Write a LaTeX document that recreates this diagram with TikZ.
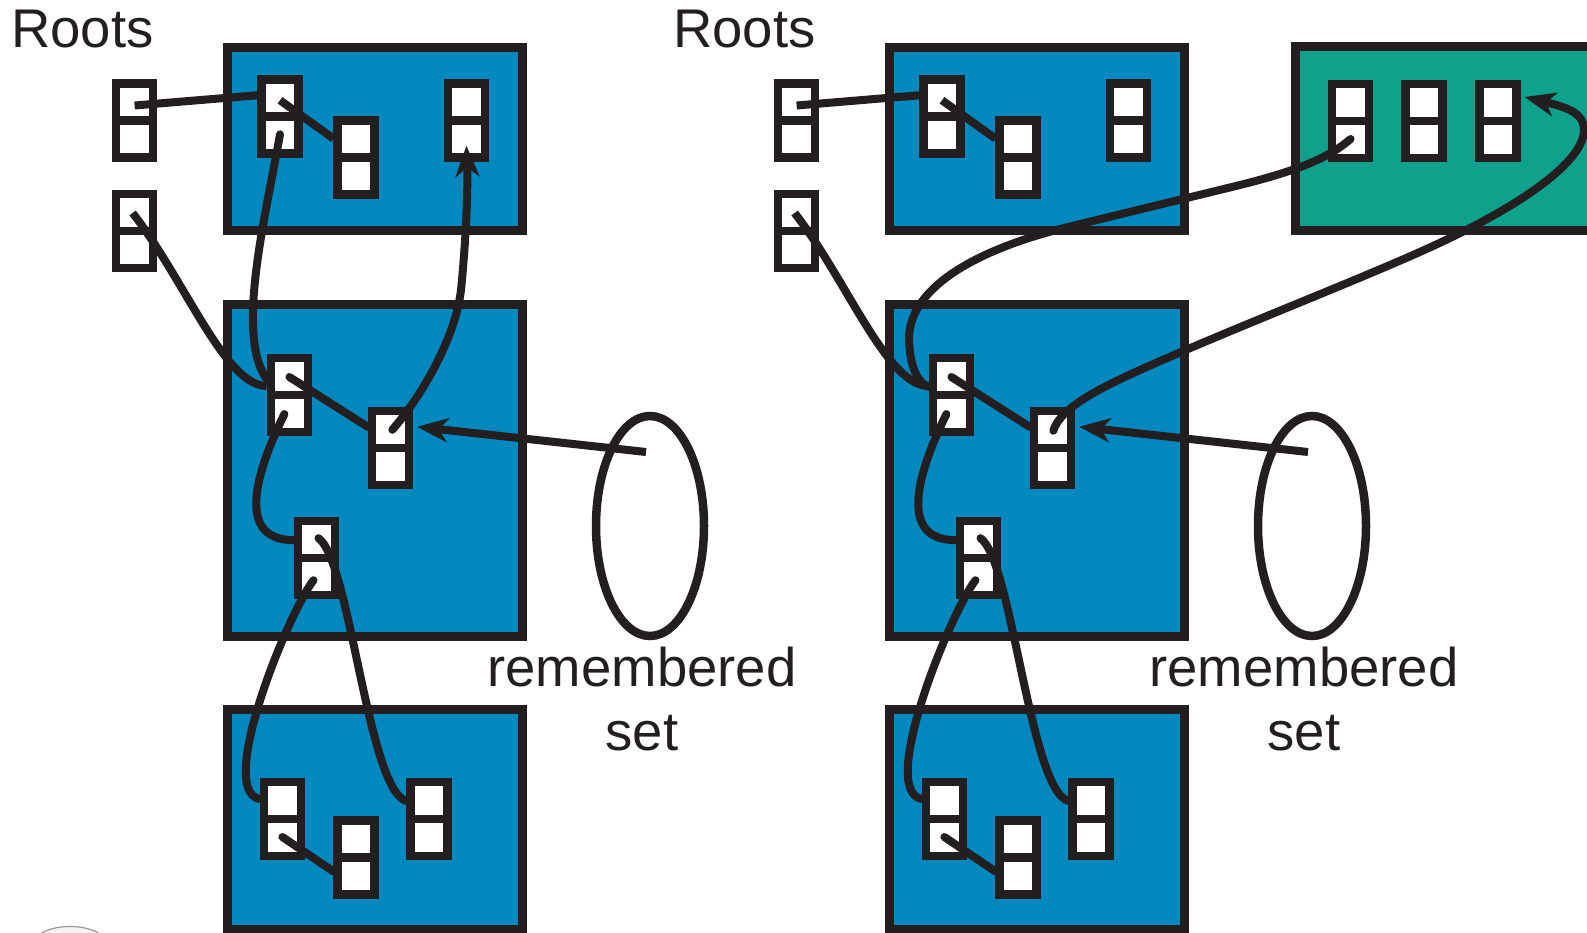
\documentclass[tikz,border=0pt]{standalone}
\usepackage{fontspec}
\setmainfont{Liberation Sans}
\usetikzlibrary{calc,shapes.geometric,arrows.meta}
\definecolor{ink}{RGB}{35,31,32}
\definecolor{heapblue}{RGB}{0,136,191}
\definecolor{oldgreen}{RGB}{14,161,140}
\begin{document}
\begin{tikzpicture}[x=1pt,y=-1pt,
  region/.style={draw=ink, line width=9pt, fill=heapblue},
  obj/.style={rectangle, draw=ink, fill=white, line width=8.5pt,
    minimum width=37pt, minimum height=74pt, inner sep=0pt,
    path picture={\draw[ink, line width=8.5pt]
      (path picture bounding box.west) -- (path picture bounding box.east);}},
  conn/.style={draw=ink, line width=8pt, line cap=round},
  flat/.style={line cap=butt},
  ptr/.style={conn, -{Stealth[length=31pt,width=24pt,inset=9pt]}},
  txt/.style={font=\fontsize{54.5}{64}\selectfont, text=ink, inner sep=0pt},
  remset/.style={draw=ink, line width=8.5pt, ellipse, minimum width=108pt,
    minimum height=220pt, inner sep=0pt}
]
\useasboundingbox (0,0) rectangle (1587,933);

% faint mark at the lower left edge
\draw[draw=black!40, line width=1.2pt, fill=black!4]
  (40,934) .. controls (55,924) and (85,924) .. (100,934);

% the old generation region (right-hand state only)
\draw[region, fill=oldgreen] (1295,47) rectangle (1620,231);

% two copies of the heap: before (left) and after (right)
\foreach \p/\dx in {l/0, r/662} {
  \begin{scope}[xshift=\dx pt]
    \node[txt, anchor=base west] (\p roots) at (11,47.6) {Roots};

    % regions
    \draw[region] (227,47.5) rectangle (522,231);
    \draw[region] (227,304) rectangle (522,636);
    \draw[region] (227,709) rectangle (522,929);

    % objects
    \node[obj] (\p R1) at (134.6,120.5) {};
    \node[obj] (\p R2) at (134.6,231) {};
    \node[obj] (\p A) at (280,116.3) {};
    \node[obj] (\p B) at (356.2,157.6) {};
    \node[obj] (\p C) at (466.4,120.7) {};
    \node[obj] (\p D) at (289.4,395) {};
    \node[obj] (\p E) at (390.3,447.8) {};
    \node[obj] (\p F) at (316.5,558.2) {};
    \node[obj] (\p G) at (282.4,819) {};
    \node[obj] (\p H) at (356.2,857.5) {};
    \node[obj] (\p I) at (429.1,819) {};

    % remembered set
    \node[remset] (\p ell) at (650,526) {};
    \node[txt, anchor=base] (\p rem) at (642,686.7) {remembered};
    \node[txt, anchor=base] (\p set) at (642,750) {set};

    % pointers present in both states
    \draw[conn, flat] ($(\p R1.center)+(0,-15)$) -- ($(\p A.west)+(0,-21)$);
    \draw[conn, flat] ($(\p A.center)+(0,-16)$) -- ($(\p B.west)+(0,-19)$);
    \draw[conn, flat] ($(\p R2.center)+(-2,-18)$)
      .. controls (185,280) and (225,386) .. ($(\p D.west)+(0,-9)$);
    \draw[conn] ($(\p D.center)+(0,-18)$) -- ($(\p E.west)+(0,-21)$);
    \draw[conn] ($(\p D.center)+(-5,19)$)
      .. controls (262,460) and (230,540) .. ($(\p F.west)+(0,-18)$);
    \draw[conn] ($(\p F.center)+(2,-20)$)
      .. controls (350,560) and (368,790) .. ($(\p I.west)+(0,-18)$);
    \draw[conn] ($(\p F.center)+(-3,22)$)
      .. controls (290,610) and (215,790) .. ($(\p G.west)+(0,-20)$);
    \draw[conn] ($(\p G.center)+(0,18)$) -- ($(\p H.west)+(0,14)$);
    \draw[ptr, flat] ($(\p ell.center)+(-4,-74)$) -- ($(\p E.east)+(4,-21)$);
  \end{scope}
}

% left state: pointers inside the young generation
\draw[conn] ($(lA.center)+(0,18)$)
  .. controls (266,215) and (235,335) .. ($(lD.west)+(0,-16)$);
\draw[ptr] ($(lE.center)+(2,-18)$)
  .. controls (420,398) and (455,340) .. (461,290)
  .. controls (466,240) and (468,190) .. ($(lC.center)+(0,25)$);

% right state: objects promoted to the old generation
\node[obj] (g1) at (1350.5,121) {};
\node[obj] (g2) at (1424.2,121) {};
\node[obj] (g3) at (1497.8,121) {};

\draw[conn] ($(g1.center)+(0,18)$)
  .. controls (1330,157) and (1300,170) .. (1240,185)
  -- (1060,229)
  .. controls (960,255) and (908,295) .. (909,340)
  .. controls (910,368) and (918,383) .. ($(rD.west)+(0,-8)$);
\draw[ptr] ($(rE.center)+(1,-17)$)
  .. controls (1060,408) and (1100,388) .. (1140,370)
  .. controls (1240,325) and (1380,272) .. (1450,238)
  .. controls (1527,201) and (1584,160) .. (1584,130)
  .. controls (1584,112) and (1565,107) .. ($(g3.east)+(4,-24)$);
\end{tikzpicture}
\end{document}
